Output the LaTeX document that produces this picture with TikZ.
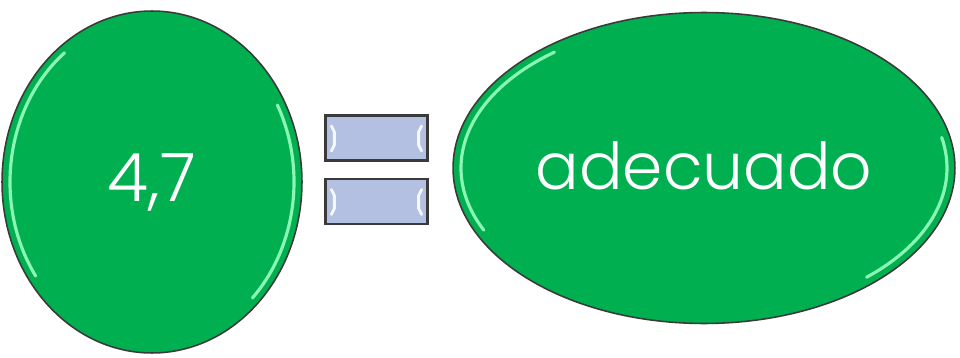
\documentclass[tikz,border=0pt]{standalone}
\usepackage{fontspec}
\setmainfont{Poppins}[UprightFont={* Light}]
\usetikzlibrary{shapes.geometric}
\definecolor{offgreen}{HTML}{00B050}
\definecolor{hlgreen}{HTML}{8AF5B4}
\definecolor{eqfill}{HTML}{B4C0E1}
\definecolor{edgegray}{HTML}{3A3A3A}
\tikzset{
  bubble/.style={ellipse, draw=edgegray, line width=0.9pt, fill=offgreen, text=white, inner sep=0pt},
  eqbar/.style={rectangle, draw=edgegray, line width=1.3pt, fill=eqfill, minimum width=2.04cm, minimum height=0.9cm, inner sep=0pt},
  shine/.style={draw=hlgreen, line width=1.8pt, line cap=round},
  barshine/.style={draw=white, line width=1.6pt, line cap=round, line join=round, opacity=0.9}
}
\begin{document}
\begin{tikzpicture}[x=0.02cm, y=-0.02cm]
\useasboundingbox (0,0) rectangle (960,358);
\node[bubble, minimum width=6cm, minimum height=6.84cm, font=\fontsize{38}{40}\selectfont] (num) at (152,182) {\raisebox{-0.15cm}{4,7}};
\node[bubble, minimum width=10.04cm, minimum height=6.22cm, font=\fontsize{36.8}{40}\selectfont] (word) at (704,168) {\raisebox{0.1cm}{adecuado}};
% glossy highlights (angles measured downward because y is flipped)
\draw[shine] ([shift={(152,182)}]-128:142 and 164) arc[start angle=-128, end angle=-215, x radius=142, y radius=164];
\draw[shine] ([shift={(152,182)}]-28:142 and 164) arc[start angle=-28, end angle=45, x radius=142, y radius=164];
\draw[shine] ([shift={(704,168)}]-128:243 and 147) arc[start angle=-128, end angle=-205, x radius=243, y radius=147];
\draw[shine] ([shift={(704,168)}]-12:243 and 147) arc[start angle=-12, end angle=48, x radius=243, y radius=147];
\node[eqbar] (bartop) at (376.5,138) {};
\node[eqbar] (barbot) at (376.5,201.5) {};
\foreach \b in {bartop,barbot}{
  \draw[barshine] ([shift={(7,-12)}]\b.west) -- ([shift={(10,-6)}]\b.west) -- ([shift={(10,7)}]\b.west) -- ([shift={(7,13)}]\b.west);
  \draw[barshine] ([shift={(-7,-12)}]\b.east) -- ([shift={(-10,-6)}]\b.east) -- ([shift={(-10,7)}]\b.east) -- ([shift={(-7,13)}]\b.east);
}
\end{tikzpicture}
\end{document}
